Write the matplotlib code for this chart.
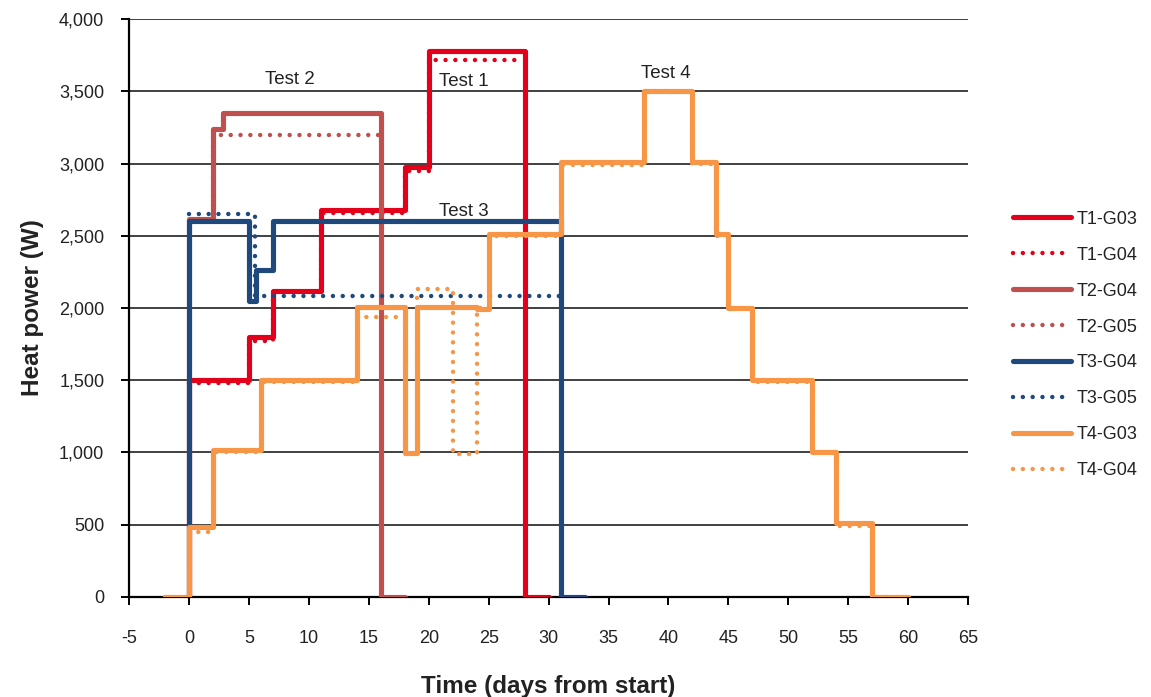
import matplotlib
matplotlib.use("Agg")
import matplotlib.pyplot as plt
from matplotlib.ticker import FuncFormatter, MultipleLocator

plt.rcParams['font.family'] = ['Liberation Sans', 'DejaVu Sans']

# ---- data (step change times in days, heat power in W) ----
T1_G03_t = [0, 0, 5, 7, 11, 18, 20, 28, 30]
T1_G03_p = [0, 1500, 1800, 2120, 2680, 2980, 3780, 0, 0]
T1_G04_t = [0, 5, 7, 11, 18, 20, 27.8]
T1_G04_p = [1480, 1770, 2110, 2660, 2950, 3720, 3720]

T2_G04_t = [0, 0, 2, 2.8, 16, 18]
T2_G04_p = [0, 2620, 3240, 3350, 0, 0]
T2_G05_t = [0, 2, 16]
T2_G05_p = [2600, 3200, 3200]

T3_G04_t = [0, 0, 5, 5.6, 7, 31, 33]
T3_G04_p = [0, 2600, 2050, 2260, 2600, 0, 0]
T3_G05_t = [0, 5.5, 31]
T3_G05_p = [2650, 2080, 2080]

T4_G03_t = [-2, 0, 2, 6, 14, 18, 19, 24, 25, 31, 38, 42, 44, 45, 47, 52, 54, 57, 60]
T4_G03_p = [0, 480, 1015, 1500, 2010, 995, 2010, 1990, 2510, 3010, 3500, 3010, 2510, 2000, 1500, 1005, 510, 0, 0]
T4_G04_t = [-2, 0, 2, 6, 14, 18, 19, 22, 24, 25, 31, 38, 42, 44, 45, 47, 52, 54, 57, 60]
T4_G04_p = [0, 450, 1000, 1490, 1940, 990, 2130, 990, 2000, 2500, 2990, 3500, 3000, 2500, 2000, 1490, 1000, 490, 0, 0]

labels = ["T1-G03", "T1-G04", "T2-G04", "T2-G05", "T3-G04", "T3-G05", "T4-G03", "T4-G04"]
annotations = [("Test 2", 8.4, 3580), ("Test 1", 22.9, 3570), ("Test 3", 22.9, 2670), ("Test 4", 39.8, 3625)]

RED, BROWN, BLUE, ORANGE = '#E2001A', '#C0504D', '#1F497D', '#F79646'

series = [
    (T1_G03_t, T1_G03_p, RED, False),
    (T1_G04_t, T1_G04_p, RED, True),
    (T2_G04_t, T2_G04_p, BROWN, False),
    (T2_G05_t, T2_G05_p, BROWN, True),
    (T3_G04_t, T3_G04_p, BLUE, False),
    (T3_G05_t, T3_G05_p, BLUE, True),
    (T4_G03_t, T4_G03_p, ORANGE, False),
    (T4_G04_t, T4_G04_p, ORANGE, True),
]

fig = plt.figure(figsize=(11.51, 6.97), dpi=100)
ax = fig.add_axes([0.1123, 0.1439, 0.841 - 0.1123, 0.9723 - 0.1439])

for (t, p, c, dotted), lab in zip(series, labels):
    if dotted:
        ax.plot(t, p, drawstyle='steps-post', color=c, lw=3.2,
                linestyle=(0, (0.01, 2.2)), dash_capstyle='round',
                solid_joinstyle='round', label=lab, zorder=3)
    else:
        ax.plot(t, p, drawstyle='steps-post', color=c, lw=3.7,
                solid_capstyle='round', solid_joinstyle='round', label=lab, zorder=3)

for txt, x, y in annotations:
    ax.text(x, y, txt, ha='center', va='center', fontsize=13.5, color='#222222', zorder=4)

ax.set_xlim(-5, 65)
ax.set_ylim(0, 4000)
ax.xaxis.set_major_locator(MultipleLocator(5))
ax.yaxis.set_major_locator(MultipleLocator(500))
ax.yaxis.set_major_formatter(FuncFormatter(lambda v, pos: f"{v:,.0f}"))
ax.xaxis.set_major_formatter(FuncFormatter(lambda v, pos: f"{v:.0f}"))

ax.grid(axis='y', color='#404040', lw=1.4, zorder=1)
ax.set_axisbelow(True)
for s in ['top', 'right']:
    ax.spines[s].set_visible(False)
for s in ['left', 'bottom']:
    ax.spines[s].set_linewidth(1.6)
    ax.spines[s].set_color('black')
    ax.spines[s].set_zorder(2)

ax.tick_params(axis='x', direction='out', length=6, width=1.4, pad=18, labelsize=13, colors='black', labelcolor='#222222')
ax.tick_params(axis='y', direction='out', length=6, width=1.4, pad=12, labelsize=13, colors='black', labelcolor='#222222')

ax.set_xlabel("Time (days from start)", fontsize=17.5, fontweight='bold', color='#222222', labelpad=20)
ax.set_ylabel("Heat power (W)", fontsize=17.5, fontweight='bold', color='#222222', labelpad=11)

leg = fig.legend(loc='center left', bbox_to_anchor=(0.880, 0.505), frameon=False,
                 fontsize=13, handlelength=3.2, handletextpad=0.35, labelspacing=1.05,
                 borderpad=0, borderaxespad=0)
for t in leg.get_texts():
    t.set_color('#222222')

fig.savefig("out.png", dpi=100)
